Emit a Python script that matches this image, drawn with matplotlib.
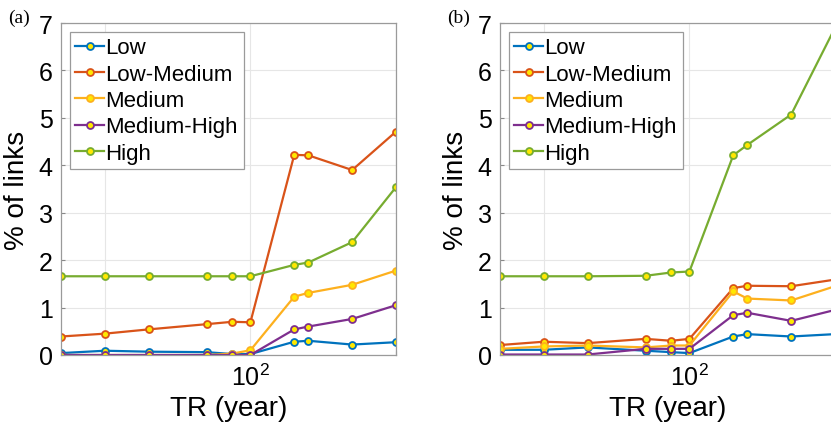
"""Percentage of links per vulnerability class vs return period, panels (a) and (b)."""

import matplotlib

matplotlib.use("Agg")
import matplotlib.pyplot as plt

plt.rcParams["font.family"] = ["Liberation Sans", "DejaVu Sans"]
plt.rcParams["mathtext.fontset"] = "custom"
plt.rcParams["mathtext.rm"] = "Liberation Sans"

return_periods = [5, 10, 20, 50, 75, 100, 200, 250, 500, 1000]
class_names = ["Low", "Low-Medium", "Medium", "Medium-High", "High"]
class_colors = ["#0072BD", "#D95319", "#FDB01E", "#7E2F8E", "#77AC30"]

# panel (a)
low_a = [0.04, 0.09, 0.07, 0.06, 0.02, 0.02, 0.28, 0.30, 0.22, 0.27]
low_medium_a = [0.39, 0.45, 0.54, 0.65, 0.70, 0.69, 4.22, 4.21, 3.90, 4.71]
medium_a = [0.0, 0.0, 0.0, 0.0, 0.03, 0.10, 1.23, 1.31, 1.48, 1.78]
medium_high_a = [0.0, 0.0, 0.0, 0.0, 0.0, 0.0, 0.54, 0.60, 0.76, 1.05]
high_a = [1.66, 1.66, 1.66, 1.66, 1.66, 1.66, 1.90, 1.95, 2.38, 3.54]

# panel (b)
low_b = [0.11, 0.11, 0.16, 0.09, 0.06, 0.04, 0.39, 0.44, 0.39, 0.44]
low_medium_b = [0.21, 0.28, 0.25, 0.34, 0.30, 0.34, 1.41, 1.46, 1.45, 1.59]
medium_b = [0.13, 0.18, 0.20, 0.16, 0.20, 0.20, 1.34, 1.19, 1.15, 1.45]
medium_high_b = [0.01, 0.01, 0.01, 0.13, 0.13, 0.13, 0.84, 0.89, 0.72, 0.95]
high_b = [1.66, 1.66, 1.66, 1.67, 1.74, 1.76, 4.21, 4.43, 5.07, 6.90]

panels = [
    ("(a)", [low_a, low_medium_a, medium_a, medium_high_a, high_a]),
    ("(b)", [low_b, low_medium_b, medium_b, medium_high_b, high_b]),
]


def draw_panel(ax, series):
    for name, color, values in zip(class_names, class_colors, series):
        ax.plot(
            return_periods,
            values,
            color=color,
            linewidth=1.6,
            marker="o",
            markersize=5,
            markerfacecolor="#FFE800",
            markeredgecolor=color,
            markeredgewidth=1.3,
            label=name,
        )
    ax.set_xscale("log")
    ax.set_xlim(5, 1000)
    ax.set_ylim(0, 7)
    ax.set_xticks([10, 100, 1000])
    ax.set_xticklabels(["", "$10^2$", ""])
    ax.minorticks_off()
    ax.set_yticks(range(8))
    ax.tick_params(labelsize=18, direction="in", length=3, color="#888888", pad=6)
    ax.grid(True, color="#e6e6e6", linewidth=0.8)
    ax.set_axisbelow(True)
    for spine in ax.spines.values():
        spine.set_color("#9a9a9a")
        spine.set_linewidth(0.9)
    ax.set_xlabel("TR (year)", fontsize=20, labelpad=4)
    ax.set_ylabel("% of links", fontsize=20, labelpad=6)
    leg = ax.legend(
        loc="upper left",
        fontsize=16,
        handlelength=1.3,
        handletextpad=0.05,
        labelspacing=0.24,
        borderpad=0.25,
        borderaxespad=0.4,
        fancybox=False,
        framealpha=1,
    )
    leg.get_frame().set_edgecolor("#9a9a9a")
    leg.get_frame().set_linewidth(0.9)


fig = plt.figure(figsize=(8.31, 4.35), dpi=100)
axes_lefts = [61 / 831, 500 / 831]
for left, (tag, series) in zip(axes_lefts, panels):
    ax = fig.add_axes([left, 79 / 435, 335 / 831, 332 / 435])
    draw_panel(ax, series)
    fig.text(left - 53 / 831, 1 - 18 / 435, tag, fontsize=14,
             family=["Liberation Serif", "DejaVu Serif"], va="center")

fig.savefig("out.png", dpi=100)
plt.close(fig)
